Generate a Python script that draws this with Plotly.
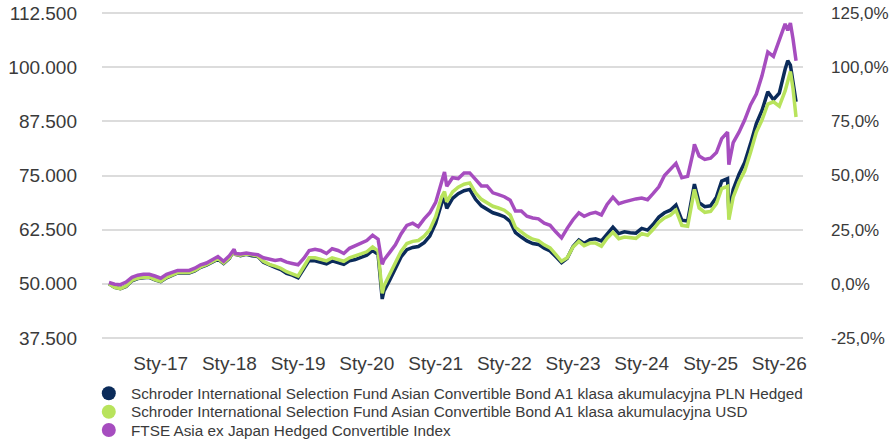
import plotly.graph_objects as go

dates = [
    "2016-04-01", "2016-05-01", "2016-06-01", "2016-07-01", "2016-08-01", "2016-09-01",
    "2016-10-01", "2016-11-01", "2016-12-01",
    "2017-01-01", "2017-02-01", "2017-03-01", "2017-04-01", "2017-05-01", "2017-06-01",
    "2017-07-01", "2017-08-01", "2017-09-01", "2017-10-01", "2017-11-01", "2017-12-01",
    "2018-01-01", "2018-01-26", "2018-02-01", "2018-03-01", "2018-04-01", "2018-05-01",
    "2018-06-01", "2018-07-01", "2018-08-01", "2018-09-01", "2018-10-01", "2018-11-01",
    "2018-12-01",
    "2019-01-01", "2019-02-01", "2019-03-01", "2019-04-01", "2019-05-01", "2019-06-01",
    "2019-07-01", "2019-08-01", "2019-09-01", "2019-10-01", "2019-11-01", "2019-12-01",
    "2020-01-01", "2020-02-01", "2020-03-01", "2020-03-23", "2020-04-01", "2020-05-01",
    "2020-06-01", "2020-07-01", "2020-08-01", "2020-09-01", "2020-10-01", "2020-11-01",
    "2020-12-01",
    "2021-01-01", "2021-02-01", "2021-02-17", "2021-03-01", "2021-04-01", "2021-05-01",
    "2021-06-01", "2021-07-01", "2021-08-01", "2021-09-01", "2021-10-01", "2021-11-01",
    "2021-12-01",
    "2022-01-01", "2022-02-01", "2022-03-01", "2022-04-01", "2022-05-01", "2022-06-01",
    "2022-07-01", "2022-08-01", "2022-09-01", "2022-10-01", "2022-11-01", "2022-12-01",
    "2023-01-01", "2023-02-01", "2023-03-01", "2023-04-01", "2023-05-01", "2023-06-01",
    "2023-07-01", "2023-08-01", "2023-09-01", "2023-10-01", "2023-11-01", "2023-12-01",
    "2024-01-01", "2024-02-01", "2024-03-01", "2024-04-01", "2024-05-01", "2024-06-01",
    "2024-07-01", "2024-08-01", "2024-09-01", "2024-10-01", "2024-10-07", "2024-11-01",
    "2024-12-01",
    "2025-01-01", "2025-02-01", "2025-03-01", "2025-04-01", "2025-04-08", "2025-05-01",
    "2025-06-01", "2025-07-01", "2025-08-01", "2025-09-01", "2025-10-01", "2025-11-01",
    "2025-12-01",
    "2026-01-01", "2026-02-01", "2026-02-15", "2026-03-01", "2026-03-15", "2026-03-31",
]

fund_pln_hedged = [
    50.0, 49.2, 48.9, 49.4, 50.7, 51.2, 51.4, 51.5, 50.9,
    50.5, 51.4, 52.0, 52.5, 52.5, 52.5, 53.0, 53.8, 54.3, 55.0, 55.7, 54.7,
    55.9, 57.8, 56.8, 56.5, 56.8, 56.5, 56.3, 55.0, 54.3, 53.8, 53.3, 52.4, 52.0,
    51.4, 53.5, 55.4, 55.3, 54.9, 54.6, 55.3, 54.8, 54.5, 55.3, 55.6, 56.1,
    56.6, 57.7, 56.8, 46.5, 48.3, 50.8, 53.5, 56.2, 57.9, 58.4, 58.6, 59.5, 61.0,
    64.0, 68.5, 69.8, 67.4, 69.7, 70.8, 71.5, 71.8, 69.5, 68.0, 67.3, 66.4, 66.0,
    65.5, 64.4, 61.8, 60.8, 59.9, 59.3, 59.1, 58.2, 57.6, 56.3, 54.9, 55.9,
    58.6, 60.1, 59.3, 60.2, 60.4, 59.9, 61.6, 63.1, 61.6, 62.0, 61.8, 61.7,
    62.8, 62.4, 63.7, 65.4, 66.4, 67.0, 68.2, 64.7, 64.5, 71.2, 73.0, 68.7, 67.8,
    68.0, 70.0, 73.7, 74.3, 66.5, 71.8, 75.3, 78.0, 82.3, 87.0, 90.0, 94.3, 92.5,
    94.0, 99.5, 101.5, 100.5, 96.0, 92.0,
]

fund_usd = [
    50.0, 49.2, 48.9, 49.5, 50.8, 51.3, 51.5, 51.6, 51.0,
    50.6, 51.5, 52.1, 52.6, 52.6, 52.6, 53.1, 53.9, 54.4, 55.1, 55.8, 54.8,
    56.0, 57.8, 56.8, 56.6, 56.9, 56.7, 56.4, 55.2, 54.5, 54.1, 53.6, 52.8, 52.4,
    51.8, 54.0, 56.0, 56.0, 55.6, 55.3, 56.0, 55.5, 55.2, 56.0, 56.4, 56.9,
    57.4, 58.5, 57.6, 47.8, 49.5, 52.0, 54.8, 57.5, 59.3, 59.8, 60.0, 61.0, 62.5,
    65.5, 70.0, 71.3, 68.9, 71.2, 72.3, 73.0, 73.3, 71.0, 69.5, 68.8, 67.9, 67.5,
    67.0, 65.9, 63.0, 62.0, 61.0, 60.3, 60.0, 59.0, 58.3, 56.8, 55.2, 56.0,
    58.5, 59.8, 58.8, 59.4, 59.4, 58.7, 60.5, 61.9, 60.4, 60.8, 60.6, 60.5,
    61.6, 61.2, 62.5, 64.2, 65.2, 65.8, 67.0, 63.5, 63.3, 70.0, 71.8, 67.5, 66.5,
    66.7, 68.5, 72.0, 72.5, 64.8, 70.0, 73.5, 76.0, 80.3, 85.0, 87.8, 91.5, 92.0,
    91.0, 94.5, 96.5, 99.0, 95.0, 88.5,
]

index_ftse = [
    50.3, 49.9, 49.8, 50.4, 51.5, 52.0, 52.2, 52.2, 51.8,
    51.3, 52.2, 52.7, 53.1, 53.1, 53.1, 53.6, 54.4, 54.8, 55.5, 56.3, 55.2,
    56.5, 58.0, 57.0, 56.9, 57.1, 56.9, 56.7, 56.0, 55.6, 55.4, 55.6, 55.0, 54.7,
    54.4, 55.9, 57.7, 58.0, 57.7, 57.0, 58.1, 57.7, 57.0, 58.2, 58.8, 59.3,
    60.0, 61.2, 60.3, 54.5, 55.5, 57.2, 59.0, 61.5, 63.5, 64.0, 63.2, 65.0, 66.4,
    68.8, 73.5, 75.8, 72.5, 74.5, 74.3, 75.6, 75.6, 74.0, 72.6, 72.6, 71.0, 70.6,
    70.1, 69.3, 66.8, 66.8, 65.6, 65.2, 65.0, 64.0, 63.5, 62.0, 60.6, 62.8,
    64.8, 66.4, 65.6, 66.2, 66.5, 65.9, 68.3, 70.0, 68.5, 68.9, 69.3, 69.6,
    69.8, 69.4, 70.8, 72.4, 75.0, 76.5, 77.8, 74.5, 74.8, 80.5, 82.2, 79.5, 78.7,
    79.0, 80.3, 83.5, 85.0, 77.5, 82.6, 85.0, 87.8, 91.3, 93.8, 98.0, 103.5, 102.5,
    106.5, 110.0, 108.5, 110.2, 106.5, 101.5,
]

series_names = [
    "Schroder International Selection Fund Asian Convertible Bond A1 klasa akumulacyjna PLN Hedged",
    "Schroder International Selection Fund Asian Convertible Bond A1 klasa akumulacyjna USD",
    "FTSE Asia ex Japan Hedged Convertible Index",
]
series_colors = ["#0b2b5a", "#b8e35c", "#a64dbf"]

left_tick_vals = [37.5, 50.0, 62.5, 75.0, 87.5, 100.0, 112.5]
left_tick_text = ["37.500", "50.000", "62.500", "75.000", "87.500", "100.000", "112.500"]
right_tick_vals = [-25, 0, 25, 50, 75, 100, 125]
right_tick_text = ["-25,0%", "0,0%", "25,0%", "50,0%", "75,0%", "100,0%", "125,0%"]
x_tick_vals = ["2017-01-01", "2018-01-01", "2019-01-01", "2020-01-01", "2021-01-01",
               "2022-01-01", "2023-01-01", "2024-01-01", "2025-01-01", "2026-01-01"]
x_tick_text = ["Sty-17", "Sty-18", "Sty-19", "Sty-20", "Sty-21",
               "Sty-22", "Sty-23", "Sty-24", "Sty-25", "Sty-26"]

FONT = "Liberation Sans, Arial, sans-serif"
TXT = "#3a3a3a"

W, H = 893, 442
Y_TOP_PX, Y_BOT_PX = 13, 338          # pixel rows of 112.500 and 37.500 gridlines
X_LEFT_PX, X_RIGHT_PX = 102, 803      # gridline extent
K = (Y_BOT_PX - Y_TOP_PX) / 75.0      # px per unit
PAD_PX = 3                            # keep the edge gridlines away from the clip edge
PAD = PAD_PX / K
ML, MR = X_LEFT_PX, W - X_RIGHT_PX
MT, MB = Y_TOP_PX - PAD_PX, H - (Y_BOT_PX + PAD_PX)
PW, PH = W - ML - MR, H - MT - MB


def px_x(p):
    return (p - ML) / PW


def px_y(p):
    return (H - MB - p) / PH


fig = go.Figure()
for name, vals, col in zip(series_names, [fund_pln_hedged, fund_usd, index_ftse], series_colors):
    fig.add_trace(go.Scatter(
        x=dates, y=vals, mode="lines", name=name,
        line=dict(color=col, width=3.5), showlegend=False, hoverinfo="skip",
    ))
# right axis carrier
fig.add_trace(go.Scatter(x=[None], y=[None], yaxis="y2", showlegend=False, hoverinfo="skip"))

# legend (drawn manually for exact spacing)
legend_rows_px = [393.3, 411.7, 430.0]
shapes = []
annotations = []
for name, col, ry in zip(series_names, series_colors, legend_rows_px):
    shapes.append(dict(
        type="circle", xref="paper", yref="paper",
        xsizemode="pixel", ysizemode="pixel",
        xanchor=px_x(108.8), yanchor=px_y(ry),
        x0=-7, x1=7, y0=-7, y1=7,
        fillcolor=col, line=dict(width=0),
    ))
    annotations.append(dict(
        text=name, xref="paper", yref="paper",
        x=px_x(129), y=px_y(ry), xanchor="left", yanchor="middle",
        showarrow=False, font=dict(size=15.3, color=TXT, family=FONT),
    ))

fig.update_layout(
    width=W, height=H,
    margin=dict(l=ML, r=MR, t=MT, b=MB, autoexpand=False),
    paper_bgcolor="white", plot_bgcolor="rgba(0,0,0,0)",
    font=dict(family=FONT, color=TXT),
    hovermode=False,
    showlegend=False,
    shapes=shapes,
    annotations=annotations,
    xaxis=dict(
        type="date", range=["2016-02-24", "2026-05-07"],
        tickvals=x_tick_vals, ticktext=x_tick_text,
        showgrid=False, zeroline=False, showline=False, ticks="",
        tickfont=dict(size=19, color=TXT, family=FONT), ticklabelstandoff=12 - PAD_PX,
        ticklabeloverflow="allow",
    ),
    yaxis=dict(
        range=[37.5 - PAD, 112.5 + PAD], tickvals=left_tick_vals, ticktext=left_tick_text,
        showgrid=True, gridcolor="#dcdcdc", gridwidth=2, zeroline=False, showline=False,
        ticks="", tickfont=dict(size=19, color=TXT, family=FONT), ticklabelstandoff=24,
        ticklabeloverflow="allow",
    ),
    yaxis2=dict(
        overlaying="y", side="right", range=[-25 - 2 * PAD, 125 + 2 * PAD],
        tickvals=right_tick_vals, ticktext=right_tick_text,
        showgrid=False, zeroline=False, showline=False, ticks="",
        tickfont=dict(size=17, color=TXT, family=FONT), ticklabelstandoff=27,
        ticklabeloverflow="allow",
    ),
)

# remove the default 8px page margin so the figure fills the window exactly
fig.write_html(
    "out.html",
    config={"displayModeBar": False, "staticPlot": True},
    post_script="document.body.style.margin='0px';",
)
